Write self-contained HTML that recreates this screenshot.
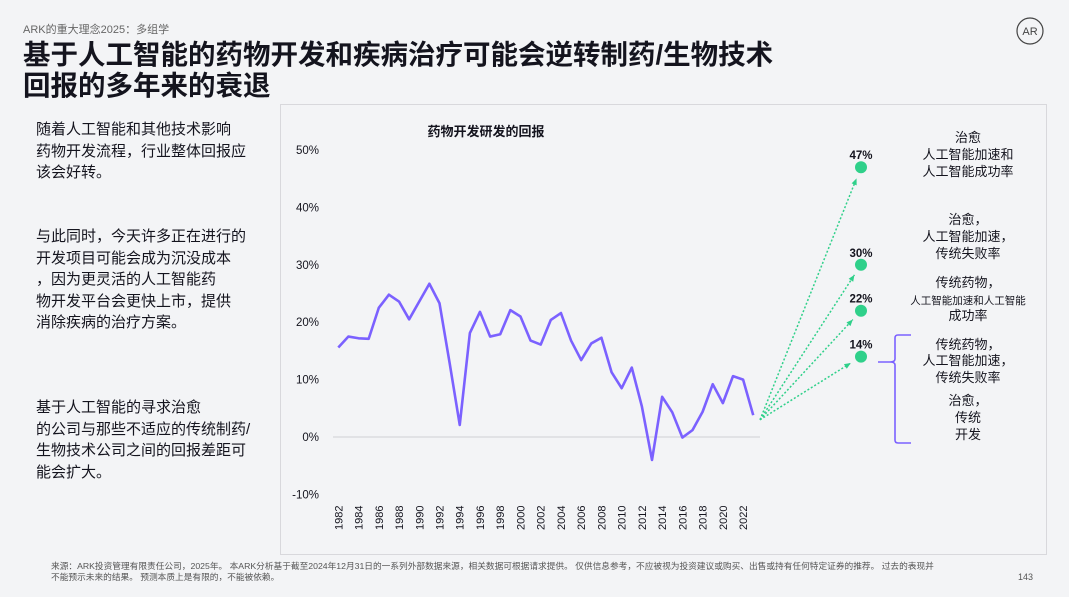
<!DOCTYPE html>
<html><head><meta charset="utf-8">
<style>
body{margin:0;width:1069px;height:597px;background:#f3f4f6;overflow:hidden;font-family:"Liberation Sans","Noto Sans CJK SC",sans-serif;color:#14141e}
svg{position:absolute;left:0;top:0}
text{font-family:"Liberation Sans","Noto Sans CJK SC",sans-serif;fill:#14141e}
</style></head><body>
<svg id="s" width="1069" height="597">
<text x="23" y="33" font-size="11" fill="#666" style="fill:#666">ARK的重大理念2025：多组学</text>
<text x="23" y="64" font-size="27.5" font-weight="bold">基于人工智能的药物开发和疾病治疗可能会逆转制药/生物技术</text>
<text x="23" y="95" font-size="27.5" font-weight="bold">回报的多年来的衰退</text>
<g><circle cx="1030" cy="31" r="13" fill="none" stroke="#444" stroke-width="1.2"/><text x="1030" y="35" font-size="11" text-anchor="middle" fill="#444" style="fill:#444">AR</text></g>
<g font-size="15">
<text x="36" y="134">随着人工智能和其他技术影响</text>
<text x="36" y="156">药物开发流程，行业整体回报应</text>
<text x="36" y="177">该会好转。</text>
<text x="36" y="241">与此同时，今天许多正在进行的</text>
<text x="36" y="263">开发项目可能会成为沉没成本</text>
<text x="36" y="284">，因为更灵活的人工智能药</text>
<text x="36" y="306">物开发平台会更快上市，提供</text>
<text x="36" y="327">消除疾病的治疗方案。</text>
<text x="36" y="412">基于人工智能的寻求治愈</text>
<text x="36" y="434">的公司与那些不适应的传统制药/</text>
<text x="36" y="455">生物技术公司之间的回报差距可</text>
<text x="36" y="477">能会扩大。</text>
</g>
<rect x="280.5" y="104.5" width="766" height="450" fill="#f3f4f6" stroke="#d8d8dc"/>
<text x="486" y="136" font-size="13" font-weight="bold" text-anchor="middle">药物开发研发的回报</text>
<g id="yax"></g>
<g id="xax"></g>
<g id="proj"></g>
<polyline id="line" fill="none" stroke="#7b61ff" stroke-width="2.6" stroke-linejoin="round"/>
<g font-size="13" text-anchor="middle">
<text x="968" y="142">治愈</text><text x="968" y="159">人工智能加速和</text><text x="968" y="176">人工智能成功率</text>
<text x="968" y="224">治愈，</text><text x="968" y="241">人工智能加速，</text><text x="968" y="258">传统失败率</text>
<text x="968" y="287">传统药物，</text><text x="968" y="304" font-size="10.5">人工智能加速和人工智能</text><text x="968" y="320">成功率</text>
<text x="968" y="349">传统药物，</text><text x="968" y="365">人工智能加速，</text><text x="968" y="382">传统失败率</text>
<text x="968" y="405">治愈，</text><text x="968" y="422">传统</text><text x="968" y="439">开发</text>
</g>
<path d="M911 335 H898 Q895 335 895 338 V359 Q895 362 890 362 H878 M890 362 Q895 362 895 365 V440 Q895 443 898 443 H911" fill="none" stroke="#7b61ff" stroke-width="1.6"/>
<text x="51" y="569" font-size="8.7" fill="#555" style="fill:#555">来源：ARK投资管理有限责任公司，2025年。 本ARK分析基于截至2024年12月31日的一系列外部数据来源，相关数据可根据请求提供。 仅供信息参考，不应被视为投资建议或购买、出售或持有任何特定证券的推荐。 过去的表现并</text>
<text x="51" y="580" font-size="8.7" fill="#555" style="fill:#555">不能预示未来的结果。 预测本质上是有限的，不能被依赖。</text>
<text x="1033" y="580" font-size="9" text-anchor="end" fill="#555" style="fill:#555">143</text>
</svg>
<script>
const years=[1982,1983,1984,1985,1986,1987,1988,1989,1990,1991,1992,1993,1994,1995,1996,1997,1998,1999,2000,2001,2002,2003,2004,2005,2006,2007,2008,2009,2010,2011,2012,2013,2014,2015,2016,2017,2018,2019,2020,2021,2022,2023];
const returns=[15.6,17.5,17.2,17.1,22.5,24.8,23.6,20.5,23.6,26.7,23.3,12.9,2.1,18.1,21.8,17.5,17.9,22.1,21.0,16.8,16.1,20.4,21.6,16.8,13.4,16.3,17.3,11.3,8.5,12.1,5.3,-4.0,7.0,4.3,-0.1,1.2,4.4,9.2,5.9,10.6,10.0,3.8];
const yTicks=[-10,0,10,20,30,40,50];
const projValues=[47,30,22,14];
const projLabels=["47%","30%","22%","14%"];
const NS="http://www.w3.org/2000/svg";
const x=v=>338.3+(v-1982)*10.12;
const y=v=>437-v*5.74;
function mk(t,a,p){const e=document.createElementNS(NS,t);for(const k in a)e.setAttribute(k,a[k]);p.appendChild(e);return e;}
const yax=document.getElementById('yax');
yTicks.forEach(t=>{const e=mk('text',{x:319,y:y(t)+4,'font-size':11.5,'text-anchor':'end'},yax);e.textContent=t+'%';

});
const zl=mk('line',{x1:333,x2:760,y1:y(0),y2:y(0),stroke:'#cfcfd4','stroke-width':1},yax);


const xax=document.getElementById('xax');
years.forEach(yr=>{if(yr%2)return;const e=mk('text',{x:x(yr)+4,y:530,'font-size':11,'text-anchor':'start',transform:`rotate(-90 ${x(yr)+4} 530)`},xax);e.textContent=yr;

});
document.getElementById('line').setAttribute('points',years.map((yr,i)=>x(yr)+','+y(returns[i])).join(' '));
const proj=document.getElementById('proj');
const ox=760,oy=y(3);
projValues.forEach((v,i)=>{const dx=861,dy=y(v);
const ang=Math.atan2(dy-oy,dx-ox);const ex=dx-12*Math.cos(ang),ey=dy-12*Math.sin(ang);
const l=mk('line',{x1:ox,y1:oy,x2:ex,y2:ey,stroke:'#2fd08a','stroke-width':1.5,'stroke-dasharray':'2 2'},proj);


const h=mk('polygon',{points:`${ex},${ey} ${ex-7*Math.cos(ang-0.4)},${ey-7*Math.sin(ang-0.4)} ${ex-7*Math.cos(ang+0.4)},${ey-7*Math.sin(ang+0.4)}`,fill:'#2fd08a'},proj);


const c=mk('circle',{cx:dx,cy:dy,r:6,fill:'#2fd08a'},proj);


const t=mk('text',{x:dx,y:dy-8,'font-size':11.5,'font-weight':'bold','text-anchor':'middle'},proj);t.textContent=projLabels[i];

});
</script>
</body></html>
